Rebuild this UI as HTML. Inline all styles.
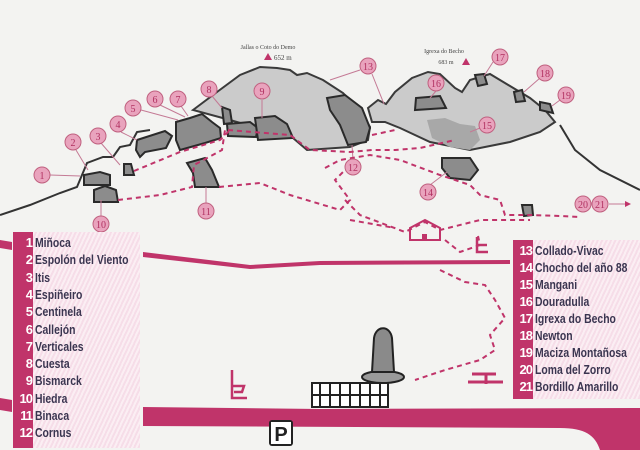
<!DOCTYPE html>
<html><head><meta charset="utf-8"><style>
body{margin:0;width:640px;height:450px;overflow:hidden;background:#f3f3f1;font-family:"Liberation Sans",sans-serif}
.leg{position:absolute;background:repeating-linear-gradient(115deg,#f6dde8 0 2px,#fbeef3 2px 4px)}
.col{position:absolute;left:0;top:0;bottom:0;width:20px;background:#c0346a}
.row{position:absolute;left:0;height:17px;line-height:17px;font-size:13px;font-weight:bold;color:#3a3550;white-space:nowrap}
.row b{display:inline-block;width:19px;text-align:right;color:#fff;font-size:13px;letter-spacing:-1px;margin-right:3px;vertical-align:top}
.row span{display:inline-block;transform:scaleX(0.8);transform-origin:left center;vertical-align:top}
</style></head><body>
<svg width="640" height="450" style="position:absolute;left:0;top:0" xmlns="http://www.w3.org/2000/svg">
<path d="M0,240 L12,242 L12,250 L0,248Z" fill="#c0346a"/>
<path d="M143,252 L250,265 L320,261 L510,260 L510,264 L320,265 L250,269 L143,257Z" fill="#c0346a"/>
<path d="M532,262 L640,264 L640,268 L532,266Z" fill="#c0346a"/>
<path d="M0,398 L12,400 L12,412 L0,410Z" fill="#c0346a"/>
<path d="M143,407 L320,409 L640,408 L640,450 L600,450 C595,435 585,428 560,428 L143,426Z" fill="#c0346a"/>
<path d="M0,215 L30,205 L60,193 L77,187 L87,163 L103,157 L113,157 L120,147 L130,145 L137,132 L150,130" fill="none" stroke="#333" stroke-width="2"/>
<path d="M560,125 L575,150 L600,170 L640,190" fill="none" stroke="#333" stroke-width="2"/>
<path d="M193,110 L217,92 L240,75 L260,67 L277,68 L290,70 L297,75 L307,73 L323,80 L343,93 L360,110 L370,127 L368,140 L350,147 L307,150 L293,138 L230,120Z" fill="#cbcbcb" stroke="#3a3a3a" stroke-width="2"/>
<path d="M368,108 L378,100 L386,104 L395,92 L412,78 L428,72 L440,74 L455,88 L462,92 L470,80 L490,74 L510,86 L530,98 L545,110 L555,122 L540,132 L510,142 L470,150 L430,142 L400,128 L385,122 L372,122Z" fill="#cbcbcb" stroke="#3a3a3a" stroke-width="2"/>
<g fill="#8c8c8c" stroke="#2a2a2a" stroke-width="2">
<path d="M84,175 L100,172 L110,175 L110,185 L84,185Z"/>
<path d="M94,190 L105,186 L116,190 L118,202 L94,202Z"/>
<path d="M124,164 L131,164 L134,175 L124,175Z"/>
<path d="M137,140 L165,131 L172,136 L166,148 L145,152 L140,157 L136,150Z"/>
<path d="M176,122 L190,118 L202,114 L212,122 L220,128 L221,138 L205,143 L180,150 L176,140Z"/>
<path d="M222,107 L230,110 L232,123 L224,124Z"/>
<path d="M227,124 L250,122 L258,128 L256,137 L228,136Z"/>
<path d="M255,118 L275,116 L287,124 L293,138 L258,140Z"/>
<path d="M187,163 L205,158 L212,170 L219,187 L195,187 L193,173Z"/>
<path d="M327,98 L345,95 L362,108 L370,128 L366,142 L348,145 L340,125 L330,110Z"/>
<path d="M416,98 L440,96 L446,108 L415,110Z"/>
<path d="M475,75 L484,74 L487,84 L478,86Z"/>
<path d="M514,92 L522,90 L525,101 L516,102Z"/>
<path d="M540,102 L550,104 L553,113 L540,110Z"/>
<path d="M442,158 L470,158 L478,170 L470,180 L450,178 L442,168Z"/>
<path d="M522,205 L532,205 L533,215 L524,216Z"/>
</g>
<path d="M427,120 L445,118 L460,124 L475,126 L480,140 L470,150 L450,147 L432,138Z" fill="#a8a8a8"/>
<g stroke="#c47a95" stroke-width="1" fill="none">
<path d="M50,175 L80,176"/><path d="M76,150 L88,170"/><path d="M101,143 L120,165"/><path d="M121,132 L137,140"/><path d="M141,110 L178,120"/><path d="M160,105 L185,117"/><path d="M181,106 L188,116"/><path d="M212,96 L222,108"/><path d="M262,100 L262,118"/><path d="M101,216 L101,200"/><path d="M206,203 L206,187"/><path d="M353,160 L352,145"/><path d="M360,70 L330,80"/><path d="M372,74 L384,104"/><path d="M436,91 L430,98"/><path d="M493,62 L484,76"/><path d="M540,78 L524,92"/><path d="M560,100 L552,106"/><path d="M430,185 L447,172"/><path d="M480,128 L470,132"/><path d="M609,204 L625,204"/>
</g>
<g stroke="#c0346a" stroke-width="2" stroke-dasharray="5,4" fill="none">
<path d="M134,171 L180,152 L220,140 L230,130"/>
<path d="M118,200 L160,195 L192,187 L194,165 L222,150 L225,130"/>
<path d="M219,187 L260,183 L290,195 L340,210 L350,200 L335,180 L345,170"/>
<path d="M228,130 L290,135 L310,150 L350,152 L372,150 L395,150 L420,148 L455,140"/>
<path d="M372,135 L395,130"/>
<path d="M325,168 L340,160 L370,155 L400,160 L440,175 L470,185 L480,195 L500,200 L505,215 L530,215 L560,216 L580,217"/>
<path d="M345,200 L360,215 L405,232 L425,222 L440,230 L480,220 L530,220"/>
<path d="M350,220 L395,228"/>
<path d="M445,240 L460,252 L480,245 L478,236"/>
<path d="M440,270 L465,282 L485,285 L495,300 L505,318 L490,335 L495,350 L480,360 L445,370 L415,380"/>
</g>
<path d="M410,228 L425,220 L440,228 L440,240 L410,240Z" fill="none" stroke="#c0346a" stroke-width="2"/>
<rect x="422" y="234" width="5" height="6" fill="#c0346a"/>
<g stroke="#c0346a" stroke-width="2.5" fill="none">
<path d="M232,370 L232,398 L247,398"/><path d="M232,386 L244,386 L242,392 L234,392"/>
<path d="M477,237 L477,252 L488,252"/><path d="M477,245 L487,245"/>
</g>
<path d="M472,374 L496,374 M486,374 L486,384 M468,382 L503,382" stroke="#c0346a" stroke-width="3"/>
<ellipse cx="383" cy="377" rx="21" ry="6" fill="#9a9a9a" stroke="#222" stroke-width="2"/>
<path d="M372,372 L374,338 C376,325 390,325 392,338 L394,372Z" fill="#8a8a8a" stroke="#222" stroke-width="2"/>
<rect x="312" y="383" width="76" height="24" fill="#fff" stroke="#222" stroke-width="2"/>
<g stroke="#222" stroke-width="2"><path d="M320,383V407M330,383V407M340,383V407M350,383V407M360,383V407M370,383V407M380,383V407M312,395H388"/></g>
<rect x="269" y="420" width="24" height="26" rx="3" fill="#222"/>
<rect x="271" y="422" width="20" height="22" fill="#fff"/>
<text x="281" y="441" font-size="20" font-weight="bold" text-anchor="middle" font-family="Liberation Sans" fill="#222">P</text>
<text x="268" y="49" font-size="6" text-anchor="middle" fill="#444" font-family="Liberation Serif">Jallas o Coto do Demo</text>
<path d="M264,60 L268,53 L272,60Z" fill="#c0346a"/><text x="274" y="60" font-size="7" fill="#444" font-family="Liberation Serif">652 m</text>
<text x="444" y="53" font-size="6" text-anchor="middle" fill="#444" font-family="Liberation Serif">Igrexa do Becho</text>
<text x="446" y="64" font-size="6" text-anchor="middle" fill="#444" font-family="Liberation Serif">683 m</text><path d="M462,65 L466,58 L470,65Z" fill="#c0346a"/>
<g font-family="Liberation Serif" font-size="10" text-anchor="middle" fill="#b03060">
<g fill="#e9a3bd" stroke="#c0607f" stroke-width="1">
<circle cx="42" cy="175" r="8"/><circle cx="73" cy="142" r="8"/><circle cx="98" cy="136" r="8"/><circle cx="118" cy="124" r="8"/><circle cx="133" cy="108" r="8"/><circle cx="155" cy="99" r="8"/><circle cx="178" cy="99" r="8"/><circle cx="209" cy="89" r="8"/><circle cx="262" cy="91" r="8"/><circle cx="101" cy="224" r="8"/><circle cx="206" cy="211" r="8"/><circle cx="353" cy="167" r="8"/><circle cx="368" cy="66" r="8"/><circle cx="428" cy="192" r="8"/><circle cx="487" cy="125" r="8"/><circle cx="436" cy="83" r="8"/><circle cx="500" cy="57" r="8"/><circle cx="545" cy="73" r="8"/><circle cx="566" cy="95" r="8"/><circle cx="583" cy="204" r="8"/><circle cx="600" cy="204" r="8"/>
</g>
<text x="42" y="179">1</text><text x="73" y="146">2</text><text x="98" y="140">3</text><text x="118" y="128">4</text><text x="133" y="112">5</text><text x="155" y="103">6</text><text x="178" y="103">7</text><text x="209" y="93">8</text><text x="262" y="95">9</text><text x="101" y="228">10</text><text x="206" y="215">11</text><text x="353" y="171">12</text><text x="368" y="70">13</text><text x="428" y="196">14</text><text x="487" y="129">15</text><text x="436" y="87">16</text><text x="500" y="61">17</text><text x="545" y="77">18</text><text x="566" y="99">19</text><text x="583" y="208">20</text><text x="600" y="208">21</text>
</g>
<path d="M625,201 L631,204 L625,207Z" fill="#c0346a"/>
</svg>
<div class="leg" style="left:13px;top:232px;width:127px;height:216px"><div class="col"></div>
<div class="row" style="top:2px"><b>1</b><span>Miñoca</span></div>
<div class="row" style="top:19.3px"><b>2</b><span>Espolón del Viento</span></div>
<div class="row" style="top:36.6px"><b>3</b><span>Itis</span></div>
<div class="row" style="top:53.9px"><b>4</b><span>Espiñeiro</span></div>
<div class="row" style="top:71.2px"><b>5</b><span>Centinela</span></div>
<div class="row" style="top:88.5px"><b>6</b><span>Callejón</span></div>
<div class="row" style="top:105.8px"><b>7</b><span>Verticales</span></div>
<div class="row" style="top:123.1px"><b>8</b><span>Cuesta</span></div>
<div class="row" style="top:140.4px"><b>9</b><span>Bismarck</span></div>
<div class="row" style="top:157.7px"><b>10</b><span>Hiedra</span></div>
<div class="row" style="top:175px"><b>11</b><span>Binaca</span></div>
<div class="row" style="top:192.3px"><b>12</b><span>Cornus</span></div>
</div>
<div class="leg" style="left:513px;top:240px;width:127px;height:159px"><div class="col"></div>
<div class="row" style="top:2px"><b>13</b><span>Collado-Vivac</span></div>
<div class="row" style="top:19px"><b>14</b><span>Chocho del año 88</span></div>
<div class="row" style="top:36px"><b>15</b><span>Mangani</span></div>
<div class="row" style="top:53px"><b>16</b><span>Douradulla</span></div>
<div class="row" style="top:70px"><b>17</b><span>Igrexa do Becho</span></div>
<div class="row" style="top:87px"><b>18</b><span>Newton</span></div>
<div class="row" style="top:104px"><b>19</b><span>Maciza Montañosa</span></div>
<div class="row" style="top:121px"><b>20</b><span>Loma del Zorro</span></div>
<div class="row" style="top:138px"><b>21</b><span>Bordillo Amarillo</span></div>
</div>
</body></html>
